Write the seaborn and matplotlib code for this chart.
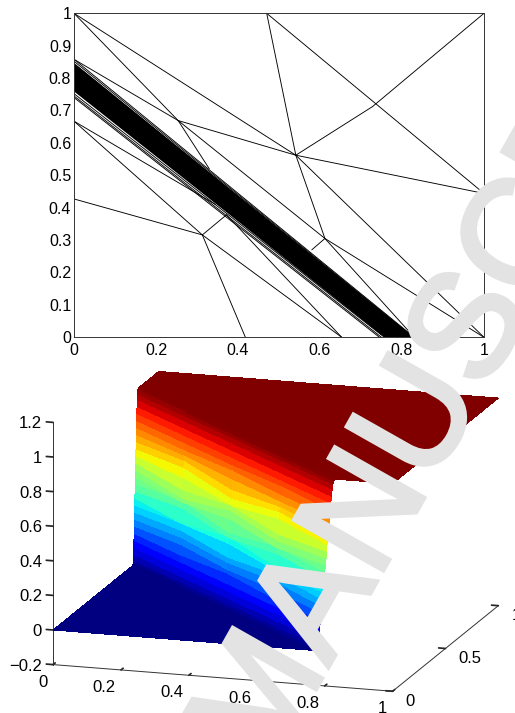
import numpy as np
import pandas as pd
import matplotlib
matplotlib.use("Agg")
import matplotlib.pyplot as plt
import matplotlib.patheffects as pe
import seaborn as sns

# --- DATA ---
# mesh nodes
nodes = {
    "A": (0, 1), "B": (0.47, 1), "C": (1, 1), "D": (0.728, 0.712), "E": (0.541, 0.562),
    "F": (1, 0.444), "G": (0.254, 0.669), "H": (0.33, 0.52), "I": (0.612, 0.305),
    "J": (0.58, 0.27), "K": (0.313, 0.316), "L": (0.372, 0.378), "M": (0, 0.427),
    "N": (0.418, 0), "O": (0.653, 0), "P": (0, 0.667), "Q": (0, 0.858), "R": (1, 0),
    "S": (0.83, 0), "T": (0.345, 0.41),
}
edges = ["AE", "AG", "GH", "BE", "BF", "CD", "DE", "EF", "EG", "EI", "ER", "GI", "QG", "IJ",
         "IR", "IS", "MK", "KN", "KL", "KO", "PK", "PT", "LO", "QS"]

# refined layer, y on the left edge and x on the bottom edge of each mesh line
band_left = [0.74, 0.745, 0.752, 0.765, 0.77, 0.775, 0.78, 0.785, 0.79, 0.795, 0.80, 0.805, 0.81,
             0.815, 0.82, 0.825, 0.83, 0.835, 0.84, 0.845, 0.852]
band_bottom = [0.745, 0.75, 0.757, 0.763, 0.768, 0.773, 0.778, 0.783, 0.788, 0.793, 0.798, 0.803,
               0.806, 0.81, 0.813, 0.816, 0.819, 0.821, 0.823, 0.826, 0.828]

# bottom panel, solution across the layer at 5 stations along it
layer_left = [0.752, 0.758, 0.76, 0.761, 0.763, 0.765, 0.766, 0.768, 0.769, 0.771, 0.772, 0.774, 0.775,
              0.777, 0.778, 0.78, 0.781, 0.783, 0.784, 0.786, 0.787, 0.789, 0.79, 0.792, 0.794, 0.796,
              0.798, 0.80, 0.806]
layer_bottom = [0.77, 0.776, 0.78, 0.782, 0.784, 0.786, 0.787, 0.789, 0.791, 0.793, 0.795, 0.797, 0.798,
                0.80, 0.802, 0.804, 0.805, 0.807, 0.809, 0.811, 0.813, 0.814, 0.816, 0.818, 0.82, 0.822,
                0.824, 0.826, 0.832]
layer_u = [
    [0.00, 0.00, 0.00, 0.00, 0.00],
    [0.01, 0.01, 0.01, 0.01, 0.01],
    [0.03, 0.03, 0.03, 0.03, 0.03],
    [0.06, 0.06, 0.06, 0.06, 0.06],
    [0.10, 0.10, 0.10, 0.10, 0.10],
    [0.14, 0.14, 0.14, 0.14, 0.14],
    [0.18, 0.18, 0.20, 0.18, 0.18],
    [0.22, 0.24, 0.22, 0.23, 0.22],
    [0.26, 0.28, 0.26, 0.28, 0.26],
    [0.30, 0.32, 0.29, 0.32, 0.30],
    [0.34, 0.36, 0.37, 0.34, 0.34],
    [0.38, 0.36, 0.41, 0.36, 0.38],
    [0.42, 0.45, 0.40, 0.44, 0.42],
    [0.46, 0.49, 0.43, 0.48, 0.46],
    [0.50, 0.48, 0.51, 0.47, 0.50],
    [0.54, 0.50, 0.56, 0.51, 0.54],
    [0.58, 0.55, 0.59, 0.55, 0.58],
    [0.62, 0.62, 0.59, 0.64, 0.62],
    [0.66, 0.68, 0.63, 0.68, 0.66],
    [0.70, 0.72, 0.68, 0.71, 0.70],
    [0.74, 0.75, 0.74, 0.74, 0.74],
    [0.78, 0.78, 0.79, 0.78, 0.78],
    [0.82, 0.82, 0.82, 0.83, 0.82],
    [0.86, 0.86, 0.86, 0.86, 0.86],
    [0.90, 0.90, 0.90, 0.90, 0.90],
    [0.94, 0.94, 0.94, 0.94, 0.94],
    [0.97, 0.97, 0.97, 0.97, 0.97],
    [0.99, 0.99, 0.99, 0.99, 0.99],
    [1.00, 1.00, 1.00, 1.00, 1.00],
]
stations = [0, 0.25, 0.5, 0.75, 1]
far_x = [0, 0.5, 1, 1, 1]
far_y = [1, 1, 1, 0.5, 0]

top_ticks_x = [0, 0.2, 0.4, 0.6, 0.8, 1]
top_ticks_y = [0, 0.1, 0.2, 0.3, 0.4, 0.5, 0.6, 0.7, 0.8, 0.9, 1]
z_ticks = [-0.2, 0, 0.2, 0.4, 0.6, 0.8, 1, 1.2]
y3_ticks = [0, 0.5, 1]

sns.set_theme(style="white")
plt.rcParams["font.family"] = ["Liberation Sans", "DejaVu Sans"]
plt.rcParams["axes.unicode_minus"] = True
W, H = 515, 713
fig = plt.figure(figsize=(W / 100, H / 100), dpi=100)

# --- TOP PANEL: MESH ---
ax = fig.add_axes([74 / W, 1 - 337.3 / H, 410 / W, 324 / H])
rows = []
for i, e in enumerate(edges):
    for n in e:
        rows.append({"x": nodes[n][0], "y": nodes[n][1], "edge": i})
for j, (a, b) in enumerate(zip(band_left, band_bottom)):
    rows.append({"x": 0, "y": a, "edge": 100 + j})
    rows.append({"x": b, "y": 0, "edge": 100 + j})
mesh = pd.DataFrame(rows)
sns.lineplot(data=mesh[mesh.edge < 100], x="x", y="y", units="edge", estimator=None, sort=False,
             color="black", linewidth=0.65, legend=False, ax=ax)
dense = mesh[(mesh.edge >= 103) & (mesh.edge <= 118)]
sns.lineplot(data=dense, x="x", y="y", units="edge", estimator=None, sort=False,
             color="black", linewidth=2.2, legend=False, ax=ax)
thin = mesh[(mesh.edge >= 100) & ((mesh.edge < 103) | (mesh.edge > 118))]
sns.lineplot(data=thin, x="x", y="y", units="edge", estimator=None, sort=False,
             color="black", linewidth=0.65, legend=False, ax=ax)
ax.set_xlim(0, 1)
ax.set_ylim(0, 1)
ax.set_xlabel("")
ax.set_ylabel("")
ax.set_xticks(top_ticks_x)
ax.set_xticklabels([f"{v:g}" for v in top_ticks_x])
ax.set_yticks(top_ticks_y)
ax.set_yticklabels([f"{v:g}" for v in top_ticks_y])
ax.tick_params(length=0, labelsize=11.5, labelcolor="black")
ax.tick_params(axis="x", pad=4)
ax.tick_params(axis="y", pad=2)
for s in ax.spines.values():
    s.set_color("#333333")
    s.set_linewidth(0.7)

# --- BOTTOM PANEL: SURFACE ---
nst = len(stations)
X = [np.zeros(nst)]
Y = [np.zeros(nst)]
Z = [np.zeros(nst)]
for a, b, u in zip(layer_left, layer_bottom, layer_u):
    X.append(np.array(stations) * b)
    Y.append((1 - np.array(stations)) * a)
    Z.append(np.array(u))
X.append(np.array(far_x, dtype=float))
Y.append(np.array(far_y, dtype=float))
Z.append(np.ones(nst))
X, Y, Z = np.array(X), np.array(Y), np.array(Z)

# 3d axes get forced square, so make it big enough to not clip anything
S = 700
ax3 = fig.add_axes([(266.25 - S / 2) / W, 1 - (523.5 + S / 2) / H, S / W, S / H], projection="3d", proj_type="ortho")
ax3.patch.set_alpha(0)
ax3.plot_surface(X, Y, Z, cmap="jet", vmin=0, vmax=1, rstride=1, cstride=1, linewidth=0,
                 antialiased=False, shade=False)
ax3.view_init(elev=14.6, azim=-72.7)
ax3.set_box_aspect((1.03, 1.03, 0.725), zoom=0.779)
ax3.set_xlim(0, 1)
ax3.set_ylim(0, 1)
ax3.set_zlim(-0.2, 1.2)
ax3.set_xticks(top_ticks_x)
ax3.set_xticklabels([f"{v:g}" for v in top_ticks_x], ha="right", va="center")
ax3.set_yticks(y3_ticks)
ax3.set_yticklabels([f"{v:g}" for v in y3_ticks], ha="left", va="center")
ax3.set_zticks(z_ticks)
ax3.set_zticklabels([f"{v:g}".replace("-", "\u2212") for v in z_ticks], ha="right", va="center")
ax3.tick_params(labelsize=12, labelcolor="black")
ax3.tick_params(axis="x", pad=6)
ax3.tick_params(axis="y", pad=2)
ax3.tick_params(axis="z", pad=-1.5)
ax3.grid(False)
for a3 in (ax3.xaxis, ax3.yaxis, ax3.zaxis):
    a3.set_pane_color((1, 1, 1, 0))
    a3.pane.set_edgecolor((1, 1, 1, 0))
    a3.line.set_color("#333333")
    a3.line.set_linewidth(0.7)
    a3._axinfo["tick"]["inward_factor"] = 0
    a3._axinfo["tick"]["outward_factor"] = 0.25
ax3.zaxis.set_ticks_position("lower")
# z ticks should run along x like the original, not along y
ax3.zaxis._get_tickdir = lambda pos: 0

# watermark sits over both panels
fig.text(267 / W, 1 - 776 / H, "MANUSCRIPT", rotation=60.5, rotation_mode="anchor", ha="left", va="baseline",
         fontsize=107.5, color="#e3e3e3", zorder=10,
         path_effects=[pe.withStroke(linewidth=3, foreground="#e3e3e3", joinstyle="miter")])

fig.savefig("out.png", dpi=100)
